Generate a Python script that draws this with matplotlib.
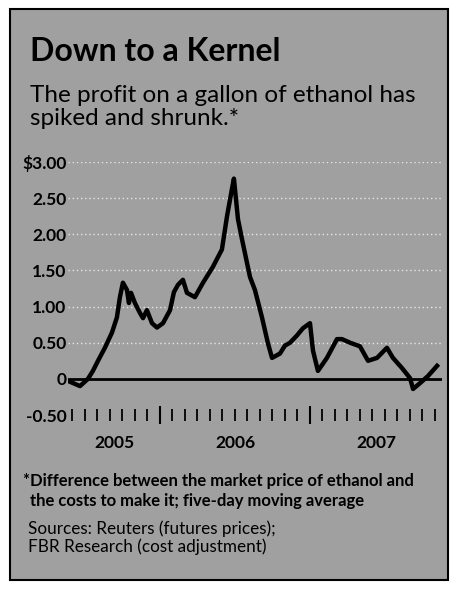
import matplotlib.pyplot as plt
from matplotlib.patches import Rectangle
from matplotlib.ticker import FixedLocator

# fractional year of each reading, profit per gallon in dollars
years = [2005.400, 2005.467, 2005.520, 2005.553, 2005.587, 2005.633, 2005.680,
         2005.713, 2005.733, 2005.753, 2005.780, 2005.793, 2005.807, 2005.833,
         2005.867, 2005.887, 2005.913, 2005.947, 2005.980, 2006.020, 2006.067,
         2006.093, 2006.120, 2006.153, 2006.180, 2006.233, 2006.287, 2006.353,
         2006.413, 2006.447, 2006.480, 2006.493, 2006.520, 2006.547, 2006.600,
         2006.633, 2006.680, 2006.720, 2006.747, 2006.800, 2006.833, 2006.867,
         2006.913, 2006.953, 2007.000, 2007.020, 2007.053, 2007.113, 2007.180,
         2007.213, 2007.267, 2007.333, 2007.387, 2007.447, 2007.513, 2007.553,
         2007.613, 2007.667, 2007.687, 2007.733, 2007.787, 2007.847]
profit = [-0.04, -0.10, 0.00, 0.11, 0.25, 0.43, 0.64,
          0.85, 1.13, 1.33, 1.23, 1.05, 1.19, 1.05,
          0.91, 0.84, 0.95, 0.77, 0.71, 0.77, 0.95,
          1.20, 1.30, 1.37, 1.19, 1.13, 1.33, 1.55,
          1.79, 2.25, 2.63, 2.77, 2.21, 1.93, 1.41,
          1.23, 0.85, 0.49, 0.29, 0.35, 0.46, 0.50,
          0.60, 0.70, 0.77, 0.39, 0.11, 0.29, 0.55,
          0.55, 0.50, 0.45, 0.25, 0.29, 0.43, 0.29,
          0.15, 0.01, -0.14, -0.06, 0.04, 0.18]

y_ticks = [3.0, 2.5, 2.0, 1.5, 1.0, 0.5, 0.0, -0.5]
y_labels = [r'\$3.00', '2.50', '2.00', '1.50', '1.00', '0.50', '0', '-0.50']
year_labels = ['2005', '2006', '2007']

plt.rcParams['font.family'] = ['Lato', 'DejaVu Sans']

W, H = 455, 589
fig = plt.figure(figsize=(W / 100, H / 100), dpi=100)
fig.patch.set_facecolor('white')
fig.patches.append(Rectangle((10 / W, 9 / H), 438 / W, 571 / H, transform=fig.transFigure,
                             facecolor='#a0a0a0', edgecolor='black', lw=1.5, zorder=-10))

ax = fig.add_axes([68 / W, 174 / H, 374 / W, 253 / H])
ax.set_facecolor('none')
ax.set_xlim(2005.387, 2007.88)
ax.set_ylim(-0.5, 3.0)

for v in y_ticks[:-1]:
    if v != 0:
        ax.axhline(v, color='#e6e6e6', lw=1.0, ls=(0, (1, 2)), zorder=1)
ax.axhline(0, color='black', lw=2, zorder=2)
ax.plot(years, profit, color='black', lw=3.2, solid_joinstyle='round', zorder=3)

for s in ax.spines.values():
    s.set_visible(False)

ax.set_yticks(y_ticks)
ax.set_yticklabels(y_labels, fontsize=12.5, fontweight='bold')
ax.tick_params(axis='y', length=0, pad=1)

# month ticks along the bottom, taller at year breaks
lo, hi = ax.get_xlim()
months = [m / 12 for m in range(int(lo * 12) + 1, int(hi * 12) + 1)]
ax.xaxis.set_major_locator(FixedLocator([2006, 2007]))
ax.xaxis.set_minor_locator(FixedLocator(months))
ax.set_xticklabels([])
ax.tick_params(axis='x', which='major', direction='inout', length=13, width=1.5, color='black')
ax.tick_params(axis='x', which='minor', direction='inout', length=9, width=1.3, color='black')

bounds = [lo, 2006, 2007, hi]
for i, lab in enumerate(year_labels):
    ax.text((bounds[i] + bounds[i + 1]) / 2, -0.78, lab,
            ha='center', va='top', fontsize=12.5, fontweight='bold')

fig.text(30 / W, 1 - 61 / H, 'Down to a Kernel', fontsize=23, fontweight='bold', va='baseline')
fig.text(30 / W, 1 - 102 / H, 'The profit on a gallon of ethanol has', fontsize=17.5, va='baseline')
fig.text(30 / W, 1 - 125 / H, 'spiked and shrunk.*', fontsize=17.5, va='baseline')

fig.text(23 / W, 1 - 486 / H, '*Difference between the market price of ethanol and',
         fontsize=12, fontweight='bold', va='baseline')
fig.text(30 / W, 1 - 506 / H, 'the costs to make it; five-day moving average',
         fontsize=12, fontweight='bold', va='baseline')
fig.text(28 / W, 1 - 534 / H, 'Sources: Reuters (futures prices);', fontsize=12.3, va='baseline')
fig.text(28 / W, 1 - 552 / H, 'FBR Research (cost adjustment)', fontsize=12.3, va='baseline')

fig.savefig('out.png', dpi=100)
